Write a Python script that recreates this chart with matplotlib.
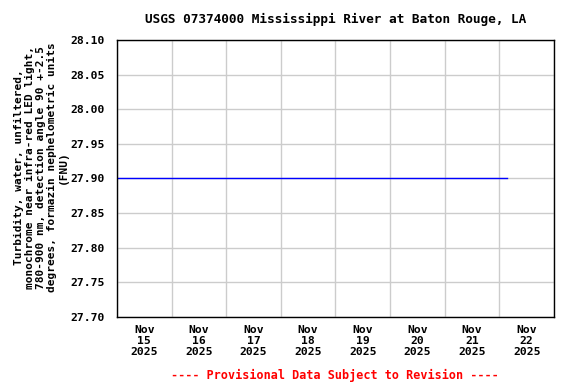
import pandas as pd
import matplotlib
matplotlib.use('Agg')
import matplotlib.pyplot as plt

# data
times = pd.to_datetime(['2025-11-15 00:00', '2025-11-22 03:30'])
turbidity = [27.9, 27.9]
day_ticks = pd.date_range('2025-11-15', '2025-11-23', freq='D')
label_ticks = pd.date_range('2025-11-15 12:00', '2025-11-22 12:00', freq='D')
y_ticks = [27.70, 27.75, 27.80, 27.85, 27.90, 27.95, 28.00, 28.05, 28.10]

plt.rcParams['font.family'] = 'DejaVu Sans Mono'
plt.rcParams['font.weight'] = 'bold'

fig = plt.figure(figsize=(5.76, 3.84), dpi=100)
ax = fig.add_axes([0.2031, 0.1745, 0.7587, 0.7214])

ax.plot(times, turbidity, color='#0000ff', linewidth=1.0)

ax.set_xlim(day_ticks[0], day_ticks[-1])
ax.set_ylim(27.70, 28.10)

ax.set_xticks(day_ticks, minor=False)
ax.set_xticklabels([])
ax.set_xticks(label_ticks, minor=True)
ax.set_xticklabels([d.strftime('%b\n%d\n%Y') for d in label_ticks], minor=True,
                   fontsize=8.2, fontweight='bold', linespacing=1.1)
ax.set_yticks(y_ticks)
ax.set_yticklabels(['%.2f' % v for v in y_ticks], fontsize=8.2, fontweight='bold')
ax.tick_params(axis='both', which='both', length=0)
ax.tick_params(axis='y', pad=9)
ax.tick_params(axis='x', which='minor', pad=6)

ax.grid(True, color='#cccccc', linewidth=1.0)
ax.set_axisbelow(True)
for s in ax.spines.values():
    s.set_linewidth(1.0)
    s.set_color('black')

ax.set_title('USGS 07374000 Mississippi River at Baton Rouge, LA',
             fontsize=9.2, fontweight='bold', pad=12)
fig.text(0.0712, 0.565,
         'Turbidity, water, unfiltered,\nmonochrome near infra-red LED light,\n'
         '780-900 nm, detection angle 90 +-2.5\n'
         'degrees, formazin nephelometric units\n(FNU)',
         fontsize=8, fontweight='bold', rotation=90, ha='center', va='center',
         multialignment='center', linespacing=1.12)
fig.text(0.5815, 0.014, '---- Provisional Data Subject to Revision ----',
         color='red', fontsize=8.5, fontweight='bold', ha='center')

plt.savefig('out.png', dpi=100)
